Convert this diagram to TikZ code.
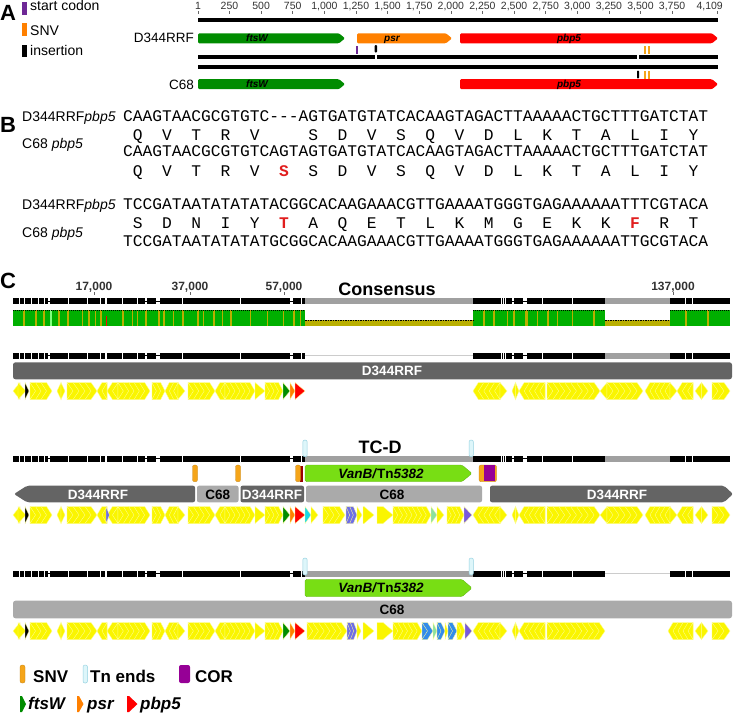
\documentclass[tikz,border=0pt]{standalone}
\usepackage{fontspec}
\setmainfont{Liberation Sans}
\setmonofont{Liberation Mono}
\definecolor{fgreen}{RGB}{0,140,0}
\definecolor{porange}{RGB}{255,128,0}
\definecolor{pred}{RGB}{255,0,0}
\definecolor{gyel}{RGB}{250,245,0}
\definecolor{gyedge}{RGB}{255,255,150}
\definecolor{idgreen}{RGB}{0,175,0}
\definecolor{idolive}{RGB}{185,175,0}
\definecolor{dgray}{RGB}{100,100,100}
\definecolor{lgray}{RGB}{170,170,170}
\definecolor{mgray}{RGB}{160,160,160}
\definecolor{vgreen}{RGB}{120,222,20}
\definecolor{snvor}{RGB}{245,165,25}
\definecolor{tncol}{RGB}{222,246,250}
\definecolor{tnedge}{RGB}{150,210,225}
\definecolor{corp}{RGB}{150,0,150}
\definecolor{startp}{RGB}{110,40,150}
\definecolor{gcyan}{RGB}{30,215,230}
\definecolor{gblue}{RGB}{110,110,230}
\definecolor{gbl2}{RGB}{50,140,235}
\definecolor{glgreen}{RGB}{140,225,160}
\definecolor{gpurp}{RGB}{120,90,220}
\definecolor{aared}{RGB}{225,30,30}
\tikzset{
  big/.style={inner sep=0pt, anchor=base west, font=\fontsize{22}{22}\selectfont\bfseries},
  lbl/.style={inner sep=0pt, anchor=base west, font=\fontsize{14}{14}\selectfont},
  tlbl/.style={inner sep=0pt, anchor=base, font=\fontsize{10.5}{10.5}\selectfont, text=black!80},
  seq/.style={inner sep=0pt, anchor=base west, font=\ttfamily\fontsize{16.25}{16.25}\selectfont},
  aa/.style={inner sep=0pt, anchor=base, font=\ttfamily\fontsize{16.25}{16.25}\selectfont},
  aar/.style={inner sep=0pt, anchor=base, text=aared, font=\ttfamily\bfseries\fontsize{16.25}{16.25}\selectfont},
  genlbl/.style={inner sep=0pt, anchor=base, font=\fontsize{10}{10}\selectfont\bfseries\itshape},
  clbl/.style={inner sep=0pt, anchor=base, font=\fontsize{12}{12}\selectfont\bfseries, text=black!80},
  ttl/.style={inner sep=0pt, anchor=base, font=\fontsize{18}{18}\selectfont\bfseries},
  seglbl/.style={inner sep=0pt, anchor=base, font=\fontsize{13.5}{13.5}\selectfont\bfseries},
  leg/.style={inner sep=0pt, anchor=base west, font=\fontsize{17}{17}\selectfont\bfseries},
  genestyle/.style={draw=gyedge, line width=0.35pt},
  snvmark/.style={fill=snvor, draw=snvor!80!black, line width=0.3pt, rounded corners=2pt},
  tnmark/.style={fill=tncol, draw=tnedge, line width=0.5pt, rounded corners=2pt},
}
% gene arrow: x1 x2 yc dir colour tip
\newcommand{\garr}[6]{%
  \ifnum#4>0
    \filldraw[genestyle,fill=#5] (#1,#3-8.5) -- (#2-#6,#3-8.5) -- (#2,#3) -- (#2-#6,#3+8.5) -- (#1,#3+8.5) -- cycle;
  \else
    \filldraw[genestyle,fill=#5] (#2,#3-8.5) -- (#1+#6,#3-8.5) -- (#1,#3) -- (#1+#6,#3+8.5) -- (#2,#3+8.5) -- cycle;
  \fi}
% run of n arrows: a b n dir colour yc
\newcommand{\grun}[6]{%
  \pgfmathsetmacro{\gWw}{(#2-#1)/#3}%
  \pgfmathsetmacro{\gT}{min(10,\gWw)}%
  \ifnum#4>0
    \foreach \gi in {#3,...,1}{%
      \pgfmathsetmacro{\gXa}{#1+(\gi-1)*\gWw-(\gi>1)*\gT}%
      \pgfmathsetmacro{\gXb}{#1+\gi*\gWw}%
      \garr{\gXa}{\gXb}{#6}{1}{#5}{\gT}}%
  \else
    \foreach \gi in {1,...,#3}{%
      \pgfmathsetmacro{\gXa}{#1+(\gi-1)*\gWw}%
      \pgfmathsetmacro{\gXb}{#1+\gi*\gWw+(\gi<#3)*\gT}%
      \garr{\gXa}{\gXb}{#6}{-1}{#5}{\gT}}%
  \fi}
\newcommand{\grow}[2]{%
  \foreach \xa/\xb/\xn/\xd/\xc in #1 {\grun{\xa}{\xb}{\xn}{\xd}{\xc}{#2}}}
\def\leftgenes{13/20/1/-1/gyel, 18/26/1/1/gyel, 30/52/4/1/gyel, 57/61/1/-1/gyel, 61/65/1/1/gyel, 67/97/5/1/gyel, 97/107/2/-1/gyel, 107/118/2/-1/gyel, 118/150/6/1/gyel, 152/165/3/1/gyel, 165/178/3/-1/gyel, 178/185/1/1/gyel, 188/215/5/1/gyel, 215/225/2/-1/gyel, 225/255/6/1/gyel, 255/265/1/1/gyel, 265/283/4/1/gyel, 283/290/1/1/fgreen, 290/295/1/1/porange, 295/305/1/1/pred, 25/29/1/1/black}
\def\rightA{473/500/5/-1/gyel, 500/507/1/1/gyel, 512/515.5/1/-1/gyel, 515.5/519/1/1/gyel, 519/545/5/-1/gyel, 547/600/9/1/gyel, 600/607/1/-1/gyel, 607/643/6/1/gyel, 645/670/5/-1/gyel, 670/677/1/1/gyel, 677/693/3/-1/gyel, 695/701.5/1/-1/gyel, 701.5/708/1/1/gyel, 712/730/3/1/gyel}
\def\rightC{473/500/5/-1/gyel, 500/507/1/1/gyel, 512/515.5/1/-1/gyel, 515.5/519/1/1/gyel, 519/545/5/-1/gyel, 547/605/10/1/gyel, 668/693/5/-1/gyel, 695/701.5/1/-1/gyel, 701.5/708/1/1/gyel, 712/730/3/1/gyel}
\def\midT{305/311/1/1/gcyan, 311/318/1/1/gyel, 323/345/4/1/gyel, 346/357/3/1/gblue, 357/362/1/1/gyel, 363/374/1/1/gyel, 377/393/1/1/gyel, 393/431/8/1/gyel, 431/437/1/1/glgreen, 437/444/1/1/gyel, 447/464/4/1/gyel, 464/472/1/1/gpurp}
\def\midC{307/347/7/1/gyel, 347/357/3/1/gblue, 357/361/1/1/gyel, 363/374/1/1/gyel, 377/393/1/1/gyel, 393/422/6/1/gyel, 422/433/2/1/gbl2, 433/437/1/1/glgreen, 437/445/2/1/gbl2, 445/448/1/1/gyel, 448/457/2/1/gbl2, 457/465/2/1/gyel, 465/472/1/1/gpurp}
% black alignment bar
\newcommand{\bbar}[1]{%
  \foreach \xa/\xb in {13/48,50/105,107/145,147/156,160/290,293/301,302/305,473/512,514/523,527/605,670/730}{\fill[black] (\xa,#1-3) rectangle (\xb,#1+3);}%
  \foreach \xa/\xb in {48/50,145/147,156/160,290/293,512/514,523/527}{\draw[black,line width=0.7pt] (\xa,#1) -- (\xb,#1);}%
  \foreach \xs in {19,24,31,38,44,68,87,100,122,137,182,240,501.5,503.5,505.5,542,572,685,692}{\draw[white,line width=0.4pt] (\xs,#1-3) -- (\xs,#1+3);}}
\newcommand{\aarrow}[4]{%
  \fill[#4,rounded corners=1.2pt] (#1,#3-5) -- (#2-6,#3-5) -- (#2,#3) -- (#2-6,#3+5) -- (#1,#3+5) -- cycle;}
\begin{document}
\begin{tikzpicture}[x=1pt,y=-1pt]
\useasboundingbox[fill=white] (0,0) rectangle (733,715);
%================ Panel A
\node[big] (lA) at (0,20) {A};
\fill[startp] (22,2) rectangle (26.5,15);
\fill[porange] (22,23) rectangle (26.5,36);
\fill[black] (22,45) rectangle (26.5,57);
\node[lbl] (legA1) at (30,10) {start codon};
\node[lbl] (legA2) at (30,35) {SNV};
\node[lbl] (legA3) at (30,55) {insertion};
\foreach \xx/\n [count=\i] in {198/1, 229.5/250, 261.1/500, 292.7/750, 324.4/{1,000}, 356.0/{1,250}, 387.6/{1,500}, 419.2/{1,750}, 450.8/{2,000}, 482.4/{2,250}, 514.1/{2,500}, 545.7/{2,750}, 577.3/{3,000}, 608.9/{3,250}, 640.5/{3,500}, 672.1/{3,750}}{
  \node[tlbl] (tk\i) at (\xx,9.5) {\n};
  \draw[black!60,line width=0.5pt] (\xx,11) -- (\xx,13.5);}
\node[tlbl,anchor=base east] (tk17) at (723,9.5) {4,109};
\draw[black!60,line width=0.5pt] (717.6,11) -- (717.6,13.5);
\fill[black] (198,18) rectangle (718,22);
\node[lbl,anchor=base east,font=\fontsize{13.5}{13.5}\selectfont] (nD) at (194,42.5) {D344RRF};
\aarrow{198}{345}{38.3}{fgreen}
\aarrow{357}{452}{38.3}{porange}
\aarrow{460}{718}{38.3}{pred}
\node[genlbl] (gA1) at (257,41.8) {ftsW};
\node[genlbl] (gA2) at (392,41.8) {psr};
\node[genlbl] (gA3) at (569,41.8) {pbp5};
\fill[startp] (355.8,46) rectangle (358.3,53.5);
\fill[black,rounded corners=1pt] (374.5,45) rectangle (377,52.5);
\fill[snvor] (644.2,45.5) rectangle (645.9,53.5);
\fill[snvor] (647.8,45.5) rectangle (649.5,53.5);
\fill[black] (198,54.5) rectangle (718,58.5);
\fill[white] (375,54) rectangle (376.6,59);
\fill[white] (637.3,54) rectangle (638.9,59);
\fill[black] (198,64.5) rectangle (718,68.5);
\fill[black,rounded corners=0.8pt] (637,70.5) rectangle (639,78.5);
\fill[snvor] (644.2,70.5) rectangle (645.9,78.5);
\fill[snvor] (647.8,70.5) rectangle (649.5,78.5);
\node[lbl,anchor=base east,font=\fontsize{13.5}{13.5}\selectfont] (nC) at (194,89.5) {C68};
\aarrow{198}{345}{84.2}{fgreen}
\aarrow{460}{718}{84.2}{pred}
\node[genlbl] (gA4) at (257,87.7) {ftsW};
\node[genlbl] (gA5) at (569,87.7) {pbp5};
%================ Panel B
\node[big] (lB) at (0,132) {B};
\node[lbl] (b1) at (22,121.5) {D344RRF\textit{pbp5}};
\node[lbl] (b2) at (22,148) {C68 \textit{pbp5}};
\node[lbl] (b3) at (22,209.5) {D344RRF\textit{pbp5}};
\node[lbl] (b4) at (22,237) {C68 \textit{pbp5}};
\node[seq] (s1) at (123,121.5) {CAAGTAACGCGTGTC-\kern0pt-\kern0pt-AGTGATGTATCACAAGTAGACTTAAAAACTGCTTTGATCTAT};
\node[seq] (s2) at (123,156.5) {CAAGTAACGCGTGTCAGTAGTGATGTATCACAAGTAGACTTAAAAACTGCTTTGATCTAT};
\node[seq] (s3) at (123,209.5) {TCCGATAATATATATACGGCACAAGAAACGTTGAAAATGGGTGAGAAAAAATTTCGTACA};
\node[seq] (s4) at (123,246.5) {TCCGATAATATATATGCGGCACAAGAAACGTTGAAAATGGGTGAGAAAAAATTGCGTACA};
\foreach \k/\a in {0/Q,1/V,2/T,3/R,4/V,6/S,7/D,8/V,9/S,10/Q,11/V,12/D,13/L,14/K,15/T,16/A,17/L,18/I,19/Y}
  {\node[aa] (p1-\k) at ({123+(3*\k+1.5)*9.75},140) {\a};}
\foreach \k/\a in {0/Q,1/V,2/T,3/R,4/V,6/S,7/D,8/V,9/S,10/Q,11/V,12/D,13/L,14/K,15/T,16/A,17/L,18/I,19/Y}
  {\node[aa] (p2-\k) at ({123+(3*\k+1.5)*9.75},176.5) {\a};}
\node[aar] (p2-5) at ({123+16.5*9.75},176.5) {S};
\foreach \k/\a in {0/S,1/D,2/N,3/I,4/Y,6/A,7/Q,8/E,9/T,10/L,11/K,12/M,13/G,14/E,15/K,16/K,18/R,19/T}
  {\node[aa] (p3-\k) at ({123+(3*\k+1.5)*9.75},228.5) {\a};}
\node[aar] (p3-5) at ({123+16.5*9.75},228.5) {T};
\node[aar] (p3-17) at ({123+52.5*9.75},228.5) {F};
%================ Panel C
\node[big] (lC) at (0,288) {C};
\foreach \xx/\n [count=\i] in {94/{17,000},190/{37,000},284/{57,000},673/{137,000}}{
  \node[clbl] (ct\i) at (\xx,290) {\n};
  \draw[black!60,line width=0.5pt] (\xx,292) -- (\xx,295);}
\node[ttl] (cons) at (387,295.5) {Consensus};
% consensus bars
\bbar{301.3}
\fill[mgray] (305,298.3) rectangle (473,304.3);
\fill[mgray] (605,298.3) rectangle (670,304.3);
% identity
\fill[idgreen] (13,310) rectangle (305,326);
\fill[idgreen] (473,310) rectangle (605,326);
\fill[idgreen] (670,310) rectangle (730,326);
\fill[idolive] (305,319.5) rectangle (473,326);
\fill[idolive] (605,319.5) rectangle (670,326);
\foreach \xs/\w in {23/1.5,35/1.5,43/1.5,58/1.5,67/1.5,82/1,88/1.5,95/1,100/1.5,122/1.5,132/1,137/1,145/1.5,158/1.5,163/1.5,173/1,182/1.5,197/1.5,203/1,213/1.5,222/1,230/1.5,250/1,267/1,283/1,293/1.5,300/1,483/1.5,493/1.5,507/1,513/1.5,525/3,537/1,547/1.5,557/1,572/1,593/1.5,685/1.5,707/1.5}
  {\fill[idolive] (\xs,310) rectangle (\xs+\w,326);}
\fill[green!50!white] (50,310) rectangle (51.5,326);
\fill[red] (106.3,316) rectangle (107.3,326);
\draw[black,dash pattern=on 1pt off 1pt,line width=0.4pt] (13,310.4) -- (305,310.4) (473,310.4) -- (605,310.4) (670,310.4) -- (730,310.4);
\draw[black,dash pattern=on 1.5pt off 1pt,line width=0.6pt] (305,319.8) -- (473,319.8) (605,319.8) -- (670,319.8);
% track 1 D344RRF
\bbar{355.7}
\draw[lgray!60,line width=0.7pt] (305,355.7) -- (473,355.7);
\fill[mgray] (605,352.7) rectangle (670,358.7);
\fill[dgray,rounded corners=2.5pt] (13,362.3) rectangle (732,379.3);
\node[seglbl,text=white] (d1) at (392,375.5) {D344RRF};
\grow{\leftgenes}{391}
\grow{\rightA}{391}
% track 2 TC-D
\node[ttl] (tcd) at (380,453) {TC-D};
\bbar{458.7}
\fill[mgray] (305,455.7) rectangle (473,461.7);
\fill[mgray] (605,455.7) rectangle (670,461.7);
\draw[tnmark] (302.8,440) rectangle (307.2,456.7);
\draw[tnmark] (469,440) rectangle (473.4,456.7);
\draw[snvmark] (192.5,465) rectangle (197.5,481.7);
\draw[snvmark] (235.5,465) rectangle (240.5,481.7);
\fill[pred!60!black] (299.5,465.5) rectangle (302.5,481.5);
\draw[snvmark] (295.5,465) rectangle (300.5,481.7);
\draw[snvmark] (479,465) rectangle (496.5,481.7);
\fill[corp] (484,465.3) rectangle (495,481.4);
\fill[vgreen,draw=vgreen!80!black,line width=0.3pt,rounded corners=1.5pt] (305,465) -- (462,465) -- (472,473.4) -- (462,481.7) -- (305,481.7) -- cycle;
\node[seglbl] (v1) at (381,478.4) {\textit{VanB/}Tn\textit{5382}};
\fill[dgray,rounded corners=2pt] (195,485.7) -- (27,485.7) -- (14,494) -- (27,502.3) -- (195,502.3) -- cycle;
\fill[lgray,rounded corners=2pt] (197,485.7) rectangle (238.5,502.3);
\fill[dgray,rounded corners=2pt] (240.5,485.7) rectangle (304,502.3);
\fill[lgray,rounded corners=2pt] (306,485.7) rectangle (482,502.3);
\fill[dgray,rounded corners=2pt] (490,485.7) -- (724,485.7) -- (733,494) -- (724,502.3) -- (490,502.3) -- cycle;
\node[seglbl,text=white] (d2) at (98,499) {D344RRF};
\node[seglbl] (c2) at (217.7,499) {C68};
\node[seglbl,text=white] (d3) at (272,499) {D344RRF};
\node[seglbl] (c3) at (392,499) {C68};
\node[seglbl,text=white] (d4) at (617,499) {D344RRF};
\grow{\leftgenes}{515}
\grun{106}{109.5}{1}{1}{gblue}{515}
\grow{\midT}{515}
\grow{\rightA}{515}
% track 3 C68
\bbar{573.7}
\fill[mgray] (305,570.7) rectangle (473,576.7);
\draw[lgray!60,line width=0.7pt] (605,573.7) -- (670,573.7);
\draw[tnmark] (302.8,558) rectangle (307.2,575);
\draw[tnmark] (469,558) rectangle (473.4,575);
\fill[vgreen,draw=vgreen!80!black,line width=0.3pt,rounded corners=1.5pt] (305,579.3) -- (462,579.3) -- (472,588) -- (462,596.7) -- (305,596.7) -- cycle;
\node[seglbl] (v2) at (381,592.7) {\textit{VanB/}Tn\textit{5382}};
\fill[lgray,rounded corners=2.5pt] (13,600.7) rectangle (732,618.3);
\node[seglbl] (c4) at (392,614.5) {C68};
\grow{\leftgenes}{631}
\grow{\midC}{631}
\grow{\rightC}{631}
%================ Legend
\draw[snvmark] (20,665) rectangle (25,683);
\node[leg] (lg1) at (33,682.5) {SNV};
\draw[tnmark] (83,665) rectangle (87.5,683);
\node[leg] (lg2) at (90,682.5) {Tn ends};
\fill[corp,rounded corners=2pt] (179,665) rectangle (190,683);
\node[leg] (lg3) at (195,682.5) {COR};
\fill[fgreen] (20,696) -- (22,696) -- (26,704) -- (22,712) -- (20,712) -- cycle;
\node[leg] (lg4) at (28,709.5) {\itshape ftsW};
\fill[porange] (77,696) -- (79,696) -- (83.5,704) -- (79,712) -- (77,712) -- cycle;
\node[leg] (lg5) at (87,709.5) {\itshape psr};
\fill[pred] (127,696) -- (129,696) -- (137.5,704) -- (129,712) -- (127,712) -- cycle;
\node[leg] (lg6) at (140,709.5) {\itshape pbp5};
\end{tikzpicture}
\end{document}
